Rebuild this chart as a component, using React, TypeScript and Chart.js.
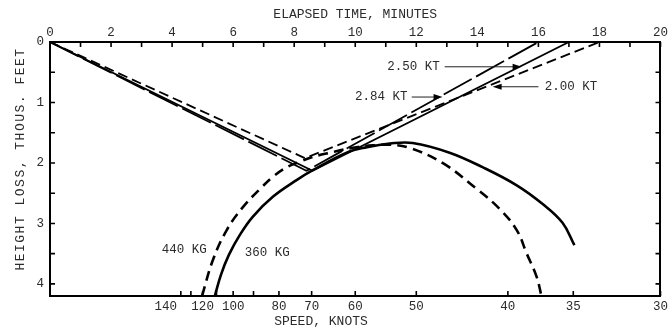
import React, { useEffect, useRef } from "react";
import { Chart, registerables } from "chart.js";

Chart.register(...registerables);

// ---- Axes ----
// Top axis: elapsed time (minutes)
const timeTickMinutes = [0, 1, 2, 3, 4, 5, 6, 7, 8, 9, 10, 11, 12, 13, 14, 15, 16, 17, 18, 19, 20];
const timeLabelMinutes = [0, 2, 4, 6, 8, 10, 12, 14, 16, 18, 20];
// Left axis: height loss (thousand feet)
const heightTickKft = [0, 0.5, 1, 1.5, 2, 2.5, 3, 3.5, 4];
const heightLabelKft = [0, 1, 2, 3, 4];
// Bottom axis: speed (knots); the time to fly the course is COURSE_MINUTES_KT / speed
const COURSE_MINUTES_KT = 600;
const speedTickKnots = [140, 130, 120, 110, 100, 90, 80, 70, 60, 50, 40, 35, 30];
const speedLabelKnots = [140, 120, 100, 80, 70, 60, 50, 40, 35, 30];

// ---- Descent / climb paths (minutes, thousand feet) ----
const path284Time = [0, 8.4, 16];
const path284Height = [0, 2.13, 0];
const path250Time = [0, 8.6, 17];
const path250Height = [0, 2.13, 0];
const path200Time = [0, 8.35, 18];
const path200Height = [0, 1.92, 0];

// ---- Weight curves (minutes, thousand feet) ----
const curve440Time = [4.98, 5.34, 5.79, 6.32, 6.94, 7.3, 7.76, 8.18, 8.61, 9.17, 9.92, 10.57, 11.19, 11.78, 12.86, 13.98, 14.73, 15.29, 15.61, 15.94, 16.1];
const curve440Height = [4.2, 3.6, 3.11, 2.73, 2.4, 2.23, 2.07, 1.98, 1.9, 1.83, 1.75, 1.71, 1.7, 1.75, 2.0, 2.43, 2.76, 3.11, 3.49, 3.88, 4.2];
const curve360Time = [5.4, 5.6, 5.86, 6.22, 6.64, 7.3, 8.09, 8.61, 9.72, 10.38, 11.13, 11.88, 13.09, 14.17, 15.29, 16.14, 16.79, 17.18];
const curve360Height = [4.2, 3.85, 3.52, 3.19, 2.89, 2.56, 2.28, 2.12, 1.83, 1.74, 1.68, 1.67, 1.83, 2.07, 2.37, 2.68, 2.99, 3.36];

const FONT = "'Liberation Mono', 'DejaVu Sans Mono', monospace";
const TEXT = "#2b2b2b";

const pts = (xs: number[], ys: number[]) => xs.map((x, i) => ({ x, y: ys[i] }));

// annotation placement (data coordinates)
const rateNotes = [
  { text: "2.50 KT", tx: 11.91, ty: 0.41, from: 12.93, to: 15.45 },
  { text: "2.84 KT", tx: 10.85, ty: 0.91, from: 11.85, to: 12.86 },
  { text: "2.00 KT", tx: 17.07, ty: 0.74, from: 16.0, to: 14.5 },
];
const weightNotes = [
  { text: "440 KG", tx: 4.4, ty: 3.44 },
  { text: "360 KG", tx: 7.12, ty: 3.49 },
];

const overlay = {
  id: "overlay",
  afterDraw(chart: any) {
    const { ctx, chartArea: a, scales } = chart;
    const xs = scales.x;
    const ys = scales.y;
    const xb = scales.xSpeed;
    ctx.save();
    // inward tick marks
    ctx.strokeStyle = "#000";
    ctx.lineWidth = 1.6;
    ctx.beginPath();
    timeTickMinutes.forEach((t) => {
      const px = xs.getPixelForValue(t);
      ctx.moveTo(px, a.top);
      ctx.lineTo(px, a.top + 5);
    });
    heightTickKft.forEach((h) => {
      const py = ys.getPixelForValue(h);
      ctx.moveTo(a.left, py);
      ctx.lineTo(a.left + 5, py);
      ctx.moveTo(a.right, py);
      ctx.lineTo(a.right - 5, py);
    });
    speedTickKnots.forEach((v) => {
      const px = xb.getPixelForValue(COURSE_MINUTES_KT / v);
      ctx.moveTo(px, a.bottom);
      ctx.lineTo(px, a.bottom - 5);
    });
    ctx.stroke();

    // rate labels with arrows
    ctx.font = `12.5px ${FONT}`;
    ctx.fillStyle = TEXT;
    ctx.textAlign = "center";
    ctx.textBaseline = "middle";
    rateNotes.forEach((n) => {
      const py = ys.getPixelForValue(n.ty);
      ctx.fillText(n.text, xs.getPixelForValue(n.tx), py);
      const x0 = xs.getPixelForValue(n.from);
      const x1 = xs.getPixelForValue(n.to);
      const dir = Math.sign(x1 - x0);
      ctx.strokeStyle = "#222";
      ctx.lineWidth = 1;
      ctx.beginPath();
      ctx.moveTo(x0, py);
      ctx.lineTo(x1 - dir * 6, py);
      ctx.stroke();
      ctx.fillStyle = "#000";
      ctx.beginPath();
      ctx.moveTo(x1, py);
      ctx.lineTo(x1 - dir * 9, py - 3);
      ctx.lineTo(x1 - dir * 9, py + 3);
      ctx.closePath();
      ctx.fill();
      ctx.fillStyle = TEXT;
    });
    weightNotes.forEach((n) => {
      ctx.fillText(n.text, xs.getPixelForValue(n.tx), ys.getPixelForValue(n.ty));
    });

    // axis titles
    ctx.font = `13px ${FONT}`;
    ctx.fillText("SPEED, KNOTS", a.left + 271, a.bottom + 26);
    ctx.save();
    ctx.translate(21, a.top + 117);
    ctx.rotate(-Math.PI / 2);
    try {
      (ctx as any).letterSpacing = "1.5px";
    } catch (e) {}
    ctx.fillText("HEIGHT LOSS, THOUS. FEET", 0, 0);
    ctx.restore();
    ctx.restore();
  },
};

export default function App() {
  const ref = useRef<HTMLCanvasElement | null>(null);
  useEffect(() => {
    if (!ref.current) return;
    const tickFont = { family: FONT, size: 12.5 };
    const noGrid = { display: false, drawTicks: false };
    const frame = { display: true, color: "#000", width: 2 };
    const chart = new Chart(ref.current, {
      type: "line",
      data: {
        datasets: [
          {
            label: "2.84 KT",
            data: pts(path284Time, path284Height),
            borderColor: "#000",
            borderWidth: 1.8,
            borderDash: [32, 5],
            tension: 0,
          },
          {
            label: "2.50 KT",
            data: pts(path250Time, path250Height),
            borderColor: "#000",
            borderWidth: 1.8,
            tension: 0,
          },
          {
            label: "2.00 KT",
            data: pts(path200Time, path200Height),
            borderColor: "#000",
            borderWidth: 1.8,
            borderDash: [10, 5],
            tension: 0,
          },
          {
            label: "440 KG",
            data: pts(curve440Time, curve440Height),
            borderColor: "#000",
            borderWidth: 2.6,
            borderDash: [10, 6],
            tension: 0.4,
          },
          {
            label: "360 KG",
            data: pts(curve360Time, curve360Height),
            borderColor: "#000",
            borderWidth: 2.6,
            tension: 0.4,
          },
        ],
      },
      options: {
        responsive: false,
        maintainAspectRatio: false,
        animation: false,
        devicePixelRatio: 1,
        layout: { padding: 0 },
        elements: { point: { radius: 0, hoverRadius: 0 } },
        plugins: { legend: { display: false }, tooltip: { enabled: false } },
        events: [],
        scales: {
          x: {
            type: "linear",
            position: "top",
            min: 0,
            max: 20,
            afterBuildTicks: (s: any) => {
              s.ticks = timeLabelMinutes.map((v) => ({ value: v }));
            },
            afterFit: (s: any) => {
              s.height = 42;
            },
            grid: noGrid,
            border: frame,
            ticks: { padding: 2, color: TEXT, font: tickFont, autoSkip: false, maxRotation: 0 },
            title: {
              display: true,
              text: "ELAPSED TIME, MINUTES",
              color: TEXT,
              font: { family: FONT, size: 13 },
              padding: { top: 7, bottom: 0 },
            },
          },
          y: {
            type: "linear",
            position: "left",
            reverse: true,
            min: 0,
            max: 4.2,
            afterBuildTicks: (s: any) => {
              s.ticks = heightLabelKft.map((v) => ({ value: v }));
            },
            afterFit: (s: any) => {
              s.width = 50;
            },
            grid: noGrid,
            border: frame,
            ticks: { padding: 6, color: TEXT, font: tickFont },
          },
          y2: {
            type: "linear",
            position: "right",
            reverse: true,
            min: 0,
            max: 4.2,
            afterFit: (s: any) => {
              s.width = 10;
            },
            grid: noGrid,
            border: frame,
            ticks: { display: false },
          },
          xSpeed: {
            type: "linear",
            position: "bottom",
            min: 0,
            max: 20,
            afterBuildTicks: (s: any) => {
              s.ticks = speedLabelKnots.map((v) => ({ value: COURSE_MINUTES_KT / v }));
            },
            afterFit: (s: any) => {
              s.height = 35;
            },
            grid: noGrid,
            border: frame,
            ticks: {
              padding: 3,
              color: TEXT,
              font: tickFont,
              autoSkip: false,
              maxRotation: 0,
              minRotation: 0,
              callback: (_v: any, i: number) => {
                const kt = speedLabelKnots[i];
                return kt === 140 ? "140    " : String(kt);
              },
            },
          },
        },
      },
      plugins: [overlay],
    } as any);
    return () => chart.destroy();
  }, []);
  return (
    <canvas
      ref={ref}
      width={671}
      height={331}
      style={{ position: "absolute", left: 0, top: 0, background: "#fff" }}
    />
  );
}
